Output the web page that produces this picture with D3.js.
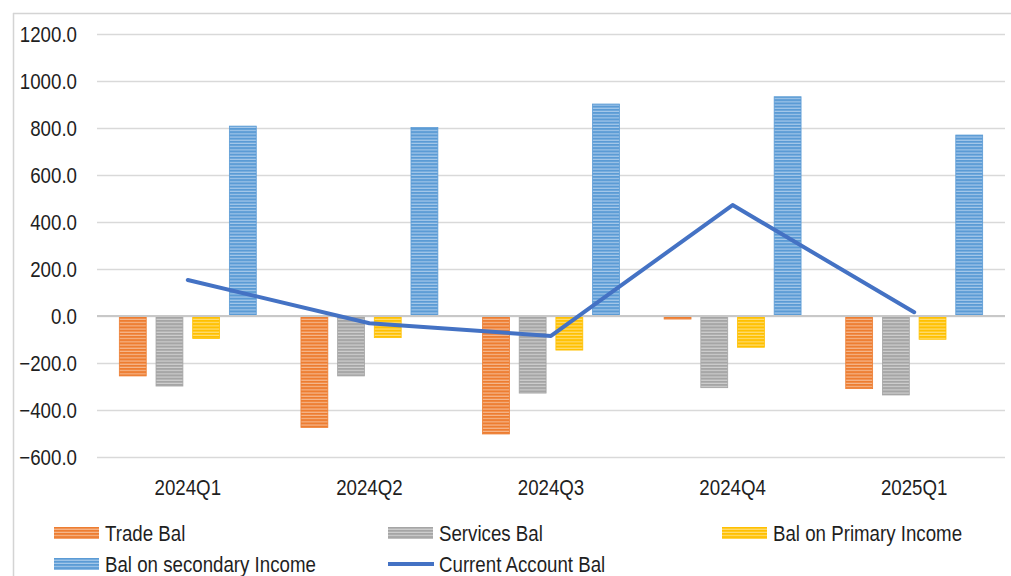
<!DOCTYPE html>
<html>
<head>
<meta charset="utf-8">
<script src="https://cdn.jsdelivr.net/npm/d3@7"></script>
<style>
  html, body { margin: 0; padding: 0; background: #fff; }
  svg { display: block; }
  text { font-family: "Liberation Sans", Arial, sans-serif; fill: #1f1f1f; }
</style>
</head>
<body>
<svg id="chart" width="1011" height="576"></svg>
<script>
// Quarterly balance of payments components
const categories = ["2024Q1", "2024Q2", "2024Q3", "2024Q4", "2025Q1"];
const tradeBal = [-255, -474, -502, -13, -309];
const servicesBal = [-298, -255, -328, -305, -336];
const primaryIncomeBal = [-96, -92, -145, -133, -99];
const secondaryIncomeBal = [808, 802, 902, 933, 770];
const currentAccountBal = [153, -31, -85, 472, 16];
const yTicks = [-600, -400, -200, 0, 200, 400, 600, 800, 1000, 1200];

const barSeries = [
  { name: "Trade Bal", values: tradeBal, color: "#ED7D31", stripe: "#F8C39E" },
  { name: "Services Bal", values: servicesBal, color: "#A5A5A5", stripe: "#D6D6D6" },
  { name: "Bal on Primary Income", values: primaryIncomeBal, color: "#FFC000", stripe: "#FFE38A" },
  { name: "Bal on secondary Income", values: secondaryIncomeBal, color: "#5B9BD5", stripe: "#B3D1EE" }
];
const lineSeries = { name: "Current Account Bal", values: currentAccountBal, color: "#4472C4" };

const FONT = 22;
const SQUEEZE = 0.85;

// narrow the glyphs horizontally while keeping each text's anchor point
function condense(sel) {
  sel.each(function () {
    const t = d3.select(this);
    const x = +t.attr("x") || 0;
    t.attr("x", 0).attr("transform", `translate(${x},0) scale(${SQUEEZE},1)`);
  });
}

const svg = d3.select("#chart");

// striped fills for the bars
const defs = svg.append("defs");
barSeries.forEach((s, i) => {
  const p = defs.append("pattern")
    .attr("id", "stripe" + i)
    .attr("patternUnits", "userSpaceOnUse")
    .attr("width", 6).attr("height", 3.2);
  p.append("rect").attr("width", 6).attr("height", 3.2).attr("fill", s.color);
  p.append("rect").attr("y", 2.1).attr("width", 6).attr("height", 1).attr("fill", s.stripe);
});

const plot = { left: 97, right: 1005, top: 34, bottom: 457 };

// outer frame (top and left edges visible)
svg.append("line").attr("x1", 13).attr("x2", 1011).attr("y1", 13.5).attr("y2", 13.5)
  .attr("stroke", "#d4d4d4").attr("stroke-width", 1.5);
svg.append("line").attr("x1", 13.5).attr("x2", 13.5).attr("y1", 13).attr("y2", 576)
  .attr("stroke", "#d4d4d4").attr("stroke-width", 1.5);

const y = d3.scaleLinear().domain([-600, 1200]).range([plot.bottom, plot.top]);
const x0 = d3.scaleBand().domain(categories).range([plot.left, plot.right]).padding(0);
const bw = x0.bandwidth();
const x1 = d3.scaleBand().domain(barSeries.map(s => s.name))
  .range([bw * 0.123, bw * 0.877]).paddingInner(0.267).paddingOuter(0);

// gridlines and value axis labels
const yAxis = d3.axisLeft(y).tickValues(yTicks).tickFormat(d3.format(".1f"))
  .tickSize(-(plot.right - plot.left)).tickPadding(20);
const gy = svg.append("g").attr("transform", `translate(${plot.left},0)`).call(yAxis);
gy.select(".domain").remove();
gy.selectAll(".tick line").attr("stroke", "#d9d9d9").attr("stroke-width", 1.5);
gy.selectAll(".tick text").attr("font-size", FONT).attr("fill", "#1f1f1f")
  .attr("x", 77 - plot.left).attr("dy", "0.36em").call(condense);

// bars
barSeries.forEach((s, i) => {
  svg.append("g").selectAll("rect").data(s.values).join("rect")
    .attr("x", (d, j) => x0(categories[j]) + x1(s.name))
    .attr("width", x1.bandwidth())
    .attr("y", d => y(Math.max(0, d)))
    .attr("height", d => Math.abs(y(d) - y(0)))
    .attr("fill", `url(#stripe${i})`)
    .attr("stroke", s.color).attr("stroke-width", 0.8);
});

// zero line
svg.append("line").attr("x1", plot.left).attr("x2", plot.right)
  .attr("y1", y(0)).attr("y2", y(0)).attr("stroke", "#c8c8c8").attr("stroke-width", 1.8);

// current account line
const line = d3.line().x((d, j) => x0(categories[j]) + bw / 2).y(d => y(d));
svg.append("path").datum(lineSeries.values).attr("d", line)
  .attr("fill", "none").attr("stroke", lineSeries.color).attr("stroke-width", 4)
  .attr("stroke-linejoin", "round").attr("stroke-linecap", "round");

// category labels
const xAxis = d3.axisBottom(x0).tickSize(0).tickPadding(0);
const gx = svg.append("g").attr("transform", `translate(0,${plot.bottom})`).call(xAxis);
gx.select(".domain").remove();
gx.selectAll(".tick text").attr("font-size", FONT).attr("fill", "#1f1f1f")
  .attr("y", 30).attr("dy", "0.36em").call(condense);

// legend
const legendItems = [
  { s: barSeries[0], x: 54, y: 533, type: "bar", i: 0 },
  { s: barSeries[1], x: 388, y: 533, type: "bar", i: 1 },
  { s: barSeries[2], x: 722, y: 533, type: "bar", i: 2 },
  { s: barSeries[3], x: 54, y: 564, type: "bar", i: 3 },
  { s: lineSeries, x: 388, y: 564, type: "line" }
];
const lg = svg.append("g").selectAll("g").data(legendItems).join("g")
  .attr("transform", d => `translate(${d.x},${d.y})`);
lg.filter(d => d.type === "bar").append("rect")
  .attr("x", 0).attr("y", -6).attr("width", 45).attr("height", 12)
  .attr("fill", d => `url(#stripe${d.i})`);
lg.filter(d => d.type === "line").append("line")
  .attr("x1", 0).attr("x2", 46).attr("y1", 0).attr("y2", 0)
  .attr("stroke", d => d.s.color).attr("stroke-width", 4);
lg.append("text").attr("x", 51).attr("dy", "0.36em").attr("font-size", FONT)
  .text(d => d.s.name).call(condense);
</script>
</body>
</html>
